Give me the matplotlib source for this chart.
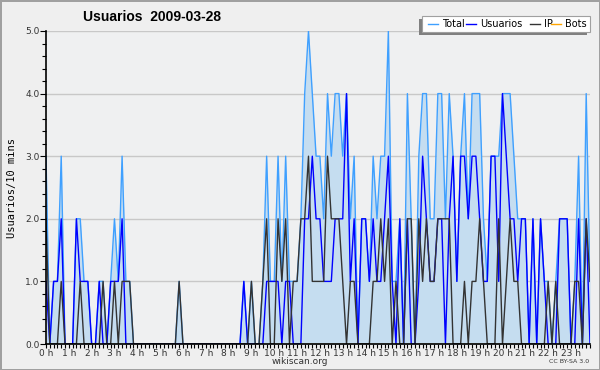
import matplotlib.pyplot as plt
import numpy as np
from matplotlib.patches import Rectangle

# 10-minute slots over 24 h (144 values)
usuarios = [1, 0, 1, 1, 2, 0, 0, 0, 2, 1, 1, 1, 0, 0, 1, 0, 0, 1, 1, 1, 2, 0, 0, 0,
            0, 0, 0, 0, 0, 0, 0, 0, 0, 0, 0, 0, 0, 0, 0, 0, 0, 0, 0, 0, 0, 0, 0, 0,
            0, 0, 0, 0, 1, 0, 0, 0, 0, 0, 1, 1, 1, 1, 0, 1, 1, 0, 0, 0, 2, 2, 3, 2,
            2, 1, 1, 1, 2, 2, 2, 4, 1, 2, 0, 2, 2, 1, 2, 1, 1, 2, 3, 1, 0, 2, 0, 2,
            0, 0, 1, 3, 2, 1, 1, 2, 2, 0, 2, 3, 1, 3, 3, 2, 3, 3, 2, 1, 1, 3, 3, 1,
            4, 3, 2, 2, 1, 2, 2, 0, 2, 0, 2, 1, 0, 0, 0, 2, 2, 2, 0, 0, 2, 0, 2, 0]
ip = [2, 0, 0, 0, 1, 0, 0, 0, 0, 1, 0, 0, 0, 0, 0, 1, 0, 0, 1, 0, 1, 1, 1, 0,
      0, 0, 0, 0, 0, 0, 0, 0, 0, 0, 0, 1, 0, 0, 0, 0, 0, 0, 0, 0, 0, 0, 0, 0,
      0, 0, 0, 0, 0, 0, 1, 0, 0, 1, 2, 0, 0, 2, 1, 2, 0, 1, 1, 2, 2, 3, 1, 1,
      1, 1, 3, 2, 2, 2, 1, 0, 1, 1, 0, 0, 0, 0, 1, 1, 2, 1, 2, 0, 1, 0, 0, 2,
      2, 0, 2, 1, 2, 1, 1, 2, 2, 2, 2, 0, 0, 0, 1, 0, 1, 1, 2, 1, 0, 0, 0, 2,
      0, 1, 2, 1, 1, 0, 0, 0, 0, 0, 0, 0, 1, 0, 1, 0, 0, 0, 0, 1, 1, 0, 2, 1]
total = [3, 0, 1, 1, 3, 0, 0, 0, 2, 2, 1, 1, 0, 0, 1, 1, 0, 1, 2, 1, 3, 1, 1, 0,
         0, 0, 0, 0, 0, 0, 0, 0, 0, 0, 0, 1, 0, 0, 0, 0, 0, 0, 0, 0, 0, 0, 0, 0,
         0, 0, 0, 0, 1, 0, 1, 0, 0, 1, 3, 1, 1, 3, 1, 3, 1, 1, 1, 2, 4, 5, 4, 3,
         3, 2, 4, 3, 4, 4, 3, 4, 2, 3, 0, 2, 2, 1, 3, 2, 3, 3, 5, 1, 1, 2, 0, 4,
         2, 0, 3, 4, 4, 2, 2, 4, 4, 2, 4, 3, 1, 3, 4, 2, 4, 4, 4, 2, 1, 3, 3, 3,
         4, 4, 4, 3, 2, 2, 2, 0, 2, 0, 2, 1, 1, 0, 1, 2, 2, 2, 0, 1, 3, 0, 4, 1]
bots = [0] * 144
hours = [str(h) + ' h' for h in range(24)]

bg = '#efefef'
fig = plt.figure(figsize=(6, 3.7), dpi=100, facecolor=bg, edgecolor='#a0a0a0', linewidth=2)
ax = fig.add_axes([46/600, 26/370, 544/600, 313/370])
ax.set_facecolor('#eff0f1')

x = np.arange(len(total))
ax.fill_between(x, 0, total, color='#c5ddf0', lw=0, zorder=1)
ax.plot(x, bots, color='#ffa500', lw=1, zorder=1.5)
ax.plot(x, total, color='#3fa0ff', lw=1, zorder=2)
ax.plot(x, usuarios, color='#0000ff', lw=1, zorder=3)
ax.plot(x, ip, color='#333333', lw=1, zorder=4)

ax.set_xlim(0, 143)
ax.set_ylim(0, 5)
ax.set_xticks(np.arange(0, 144, 6))
ax.set_xticklabels(hours)
ax.set_xticks(x, minor=True)
ax.set_yticks(np.arange(0, 6))
ax.set_yticklabels(['%.1f' % v for v in range(6)])
ax.set_yticks(np.arange(0, 5.01, 0.2), minor=True)
ax.tick_params(axis='both', labelsize=6.5, colors='#333333', pad=0.5)
ax.tick_params(axis='both', which='major', length=4, width=0.8, color='black')
ax.tick_params(axis='both', which='minor', length=3, width=0.8, color='black')
ax.tick_params(axis='x', which='both', length=3)
ax.grid(axis='y', color='#c8c8c8', lw=1)
ax.set_axisbelow(True)
for s in ['top', 'right']:
    ax.spines[s].set_visible(False)
for s in ['left', 'bottom']:
    ax.spines[s].set_linewidth(1.2)
    ax.spines[s].set_zorder(5)

ax.set_ylabel('Usuarios/10 mins', fontsize=7.5, family='DejaVu Sans Mono', labelpad=6)
fig.text(0.253, 0.955, 'Usuarios  2009-03-28', fontsize=10, fontweight='bold',
         family='Liberation Sans', ha='center', va='center')
fig.text(0.5, 0.022, 'wikiscan.org', fontsize=6.5, color='#333333', ha='center', va='center')
fig.text(0.982, 0.022, 'CC BY-SA 3.0', fontsize=4.5, color='#333333', ha='right', va='center')

# legend box with shadow
fig.patches.append(Rectangle((419/600, 1 - 35/370), 168/600, 16/370, transform=fig.transFigure,
                             facecolor='#808080', edgecolor='none', zorder=9))
fig.patches.append(Rectangle((422/600, 1 - 32/370), 168/600, 16/370, transform=fig.transFigure,
                             facecolor='white', edgecolor='#a0a0a0', lw=0.8, zorder=10))
names = ['Total', 'Usuarios', 'IP', 'Bots']
cols = ['#3fa0ff', '#0000ff', '#333333', '#ffa500']
starts = [428, 466, 530, 551]
for n, c, s in zip(names, cols, starts):
    y = 1 - 24/370
    fig.add_artist(plt.Line2D([s/600, (s + 10)/600], [y, y], color=c, lw=1, zorder=11))
    fig.text((s + 14)/600, y, n, fontsize=7, ha='left', va='center', zorder=11)

fig.savefig('out.png', dpi=100, facecolor=bg, edgecolor='#a0a0a0')
